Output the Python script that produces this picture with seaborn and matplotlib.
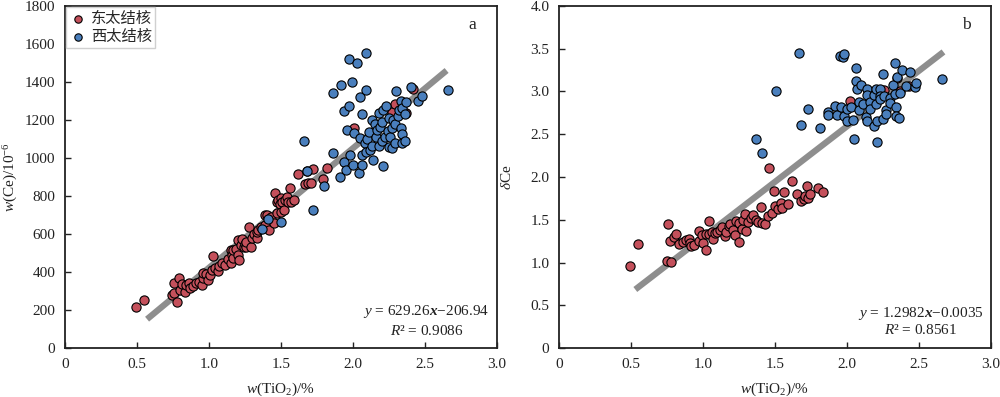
import matplotlib
matplotlib.use("Agg")
import matplotlib.pyplot as plt
import seaborn as sns
import numpy as np

# ---------------- data ----------------
xticks = [0, 0.5, 1.0, 1.5, 2.0, 2.5, 3.0]
xtick_labels = ["0", "0.5", "1.0", "1.5", "2.0", "2.5", "3.0"]
a_yticks = [0, 200, 400, 600, 800, 1000, 1200, 1400, 1600, 1800]
a_ytick_labels = ["0", "200", "400", "600", "800", "1000", "1200", "1400", "1600", "1800"]
b_yticks = [0, 0.5, 1.0, 1.5, 2.0, 2.5, 3.0, 3.5, 4.0]
b_ytick_labels = ["0", "0.5", "1.0", "1.5", "2.0", "2.5", "3.0", "3.5", "4.0"]
series_names = ["东太结核", "西太结核"]

# panel a : w(Ce) vs w(TiO2)
a_east_x = [0.49, 0.55, 0.74, 0.76, 0.76, 0.78, 0.79, 0.80, 0.81, 0.83, 0.84, 0.86, 0.87, 0.89,
            0.91, 0.93, 0.95, 0.96, 0.96, 0.98, 0.99, 1.01, 1.02, 1.03, 1.04, 1.06, 1.07, 1.09,
            1.11, 1.13, 1.15, 1.15, 1.16, 1.17, 1.17, 1.19, 1.20, 1.20, 1.21, 1.22, 1.23, 1.24,
            1.25, 1.26, 1.26, 1.28, 1.29, 1.30, 1.31, 1.33, 1.33, 1.34, 1.36, 1.39, 1.39, 1.40,
            1.42, 1.43, 1.45, 1.46, 1.47, 1.47, 1.48, 1.49, 1.50, 1.50, 1.51, 1.52, 1.53, 1.54,
            1.55, 1.56, 1.57, 1.59, 1.62, 1.67, 1.68, 1.69, 1.71, 1.72, 1.79, 1.82, 2.01, 2.27,
            2.29, 2.37, 2.42]
a_east_y = [216, 254, 279, 290, 344, 244, 367, 305, 335, 296, 330, 340, 314, 325,
            340, 345, 332, 367, 393, 390, 358, 384, 410, 484, 419, 405, 430, 450,
            437, 470, 446, 516, 489, 472, 516, 520, 489, 568, 463, 540, 575, 533,
            550, 533, 560, 638, 533, 577, 600, 577, 612, 620, 638, 646, 700, 700,
            621, 690, 656, 818, 708, 770, 780, 760, 717, 790, 770, 726, 780, 797,
            768, 840, 770, 780, 916, 863, 933, 867, 867, 940, 888, 946, 1156, 1240,
            1284, 1236, 1363]
a_west_x = [1.37, 1.41, 1.50, 1.72, 1.66, 1.68, 1.80, 1.86, 1.86, 1.91, 1.92, 1.94, 1.94, 1.95,
            1.96, 1.97, 1.97, 1.98, 1.99, 2.00, 2.01, 2.03, 2.04, 2.05, 2.05, 2.06, 2.06, 2.06,
            2.08, 2.09, 2.09, 2.09, 2.10, 2.11, 2.12, 2.13, 2.13, 2.14, 2.15, 2.16, 2.17, 2.18,
            2.18, 2.19, 2.20, 2.20, 2.21, 2.21, 2.22, 2.23, 2.24, 2.25, 2.25, 2.26, 2.27, 2.27,
            2.28, 2.29, 2.29, 2.30, 2.31, 2.32, 2.33, 2.33, 2.34, 2.34, 2.34, 2.36, 2.36, 2.37,
            2.40, 2.45, 2.48, 2.66]
a_west_y = [625, 677, 661, 726, 1091, 933, 853, 1024, 1340, 902, 1384, 981, 1247, 937,
            1147, 1274, 1519, 1016, 1402, 963, 1130, 1502, 919, 1103, 1319, 1016, 963, 1230,
            1080, 1030, 1358, 1551, 1100, 1138, 1042, 1065, 1200, 989, 1180, 1113, 1145, 1065,
            1235, 1161, 1190, 1090, 959, 1250, 1112, 1274, 1140, 1056, 1209, 1112, 1052, 1160,
            1200, 1077, 1179, 1353, 1220, 1250, 1156, 1300, 1265, 1126, 1080, 1091, 1230, 1293,
            1375, 1300, 1328, 1358]

# panel b : deltaCe vs w(TiO2)
b_east_x = [0.49, 0.55, 0.75, 0.78, 0.76, 0.77, 0.80, 0.81, 0.83, 0.86, 0.88, 0.90, 0.91, 0.92,
            0.94, 0.97, 0.97, 0.99, 1.00, 1.02, 1.02, 1.04, 1.04, 1.06, 1.07, 1.08, 1.10, 1.12,
            1.13, 1.15, 1.16, 1.18, 1.19, 1.21, 1.22, 1.23, 1.25, 1.25, 1.27, 1.28, 1.29, 1.30,
            1.31, 1.33, 1.35, 1.37, 1.38, 1.40, 1.41, 1.43, 1.45, 1.46, 1.48, 1.49, 1.50, 1.52,
            1.54, 1.55, 1.56, 1.59, 1.62, 1.65, 1.68, 1.70, 1.71, 1.72, 1.73, 1.74, 1.80, 1.83,
            2.02, 2.26, 2.35, 2.37, 2.43]
b_east_y = [0.96, 1.22, 1.02, 1.01, 1.45, 1.25, 1.30, 1.33, 1.22, 1.24, 1.26, 1.27, 1.23, 1.19,
            1.21, 1.37, 1.25, 1.32, 1.23, 1.15, 1.33, 1.48, 1.33, 1.36, 1.28, 1.34, 1.36, 1.38,
            1.42, 1.31, 1.36, 1.43, 1.45, 1.38, 1.32, 1.48, 1.24, 1.46, 1.39, 1.50, 1.57, 1.37,
            1.47, 1.52, 1.55, 1.50, 1.47, 1.65, 1.46, 1.45, 1.54, 2.10, 1.58, 1.84, 1.66, 1.62,
            1.70, 1.64, 1.82, 1.69, 1.95, 1.80, 1.72, 1.74, 1.78, 1.89, 1.76, 1.80, 1.87, 1.83,
            2.89, 3.02, 3.16, 3.01, 3.07]
b_west_x = [1.37, 1.41, 1.51, 1.67, 1.68, 1.73, 1.81, 1.87, 1.87, 1.92, 1.93, 1.95, 1.96, 1.97,
            1.98, 1.98, 2.00, 2.00, 2.03, 2.04, 2.05, 2.06, 2.06, 2.07, 2.08, 2.08, 2.10, 2.11,
            2.13, 2.14, 2.14, 2.14, 2.16, 2.16, 2.19, 2.19, 2.20, 2.20, 2.21, 2.21, 2.23, 2.23,
            2.23, 2.25, 2.25, 2.26, 2.27, 2.27, 2.30, 2.30, 2.32, 2.33, 2.33, 2.34, 2.34, 2.35,
            2.36, 2.37, 2.38, 2.41, 2.44, 2.47, 2.48, 2.66]
b_west_y = [2.45, 2.28, 3.01, 3.45, 2.61, 2.80, 2.57, 2.76, 2.72, 2.83, 2.72, 3.41, 2.82, 3.40,
            3.44, 2.71, 2.80, 2.66, 2.82, 2.67, 2.44, 3.28, 3.12, 3.03, 2.88, 2.78, 3.08, 2.85,
            2.70, 3.03, 2.96, 2.66, 2.88, 2.80, 2.96, 2.60, 3.03, 2.85, 2.66, 2.41, 3.03, 2.95,
            2.91, 3.21, 2.68, 2.95, 2.78, 2.74, 2.92, 2.86, 3.08, 3.33, 2.97, 2.82, 2.71, 3.17,
            2.69, 2.98, 3.25, 3.06, 3.23, 3.05, 3.10, 3.15]

# regression lines (slope, intercept, x-range) and annotation text
a_fit = (629.26, -206.94)
a_fit_range = [0.57, 2.65]
b_fit = (1.2982, -0.0035)
b_fit_range = [0.53, 2.67]
a_eq = r"$y$ = 629.26$\mathbf{x}$−206.94"
a_r2 = r"$R$² = 0.9086"
b_eq = r"$y$ = 1.2982$\mathbf{x}$−0.0035"
b_r2 = r"$R$² = 0.8561"

# ---------------- style ----------------
sns.set_theme(style="white")
plt.rcParams["font.family"] = ["Liberation Serif", "Noto Sans CJK SC"]
plt.rcParams["mathtext.fontset"] = "custom"
plt.rcParams["mathtext.rm"] = "Liberation Serif"
plt.rcParams["mathtext.it"] = "Liberation Serif:italic"
plt.rcParams["mathtext.bf"] = "Liberation Serif:italic:bold"
plt.rcParams["axes.unicode_minus"] = True

RED = "#C4505B"
BLUE = "#4A7FBD"
LINE = "#8E8E8E"
INK = "#222222"
MS = 44
FS = 11

fig = plt.figure(figsize=(10, 3.97), dpi=100)
axa = fig.add_axes([0.065, 0.1234, 0.432, 0.8615])
axb = fig.add_axes([0.559, 0.1234, 0.432, 0.8615])


def draw(ax, ex, ey, wx, wy, fit, frange, yticks, ylabels, ylim, eq, r2, eqy, r2y, letter, lety, ylabel, legend):
    fx = np.array(frange)
    sns.lineplot(x=fx, y=fit[0] * fx + fit[1], ax=ax, color=LINE, lw=4.5, zorder=1,
                 solid_capstyle="butt")
    sns.scatterplot(x=ex, y=ey, ax=ax, color=RED, s=MS, edgecolor="black", linewidth=0.8,
                    label=series_names[0] if legend else None, zorder=3, legend=legend)
    sns.scatterplot(x=wx, y=wy, ax=ax, color=BLUE, s=MS, edgecolor="black", linewidth=0.8,
                    label=series_names[1] if legend else None, zorder=4, legend=legend)
    ax.set_xlim(0, 3)
    ax.set_ylim(*ylim)
    ax.set_xticks(xticks)
    ax.set_xticklabels(xtick_labels)
    ax.set_yticks(yticks)
    ax.set_yticklabels(ylabels)
    ax.tick_params(direction="in", length=4, width=1, colors=INK, labelsize=FS,
                   left=True, bottom=True, pad=7)
    for sp in ax.spines.values():
        sp.set_color(INK)
        sp.set_linewidth(1.3)
    ax.set_xlabel(r"$w$(TiO$_2$)/%", fontsize=FS, color=INK)
    ax.xaxis.set_label_coords(0.5, -0.095)
    ax.set_ylabel(ylabel, fontsize=FS, color=INK)
    ax.yaxis.set_label_coords(-0.105, 0.5)
    ax.text(2.51, eqy, eq, ha="center", va="center", fontsize=11, color=INK)
    ax.text(2.51, r2y, r2, ha="center", va="center", fontsize=11, color=INK)
    ax.text(2.83, lety, letter, ha="center", va="center", fontsize=12.5, color=INK)
    if legend:
        ax.legend(loc="upper left", frameon=True, fancybox=False, edgecolor="#d0d0d0",
                  framealpha=1, borderpad=0.2, handletextpad=0.25, borderaxespad=0.05,
                  labelspacing=0.1, markerscale=0.8, handlelength=1.2,
                  prop={"family": ["Noto Sans CJK SC"], "size": 11})


draw(axa, a_east_x, a_east_y, a_west_x, a_west_y, a_fit, a_fit_range,
     a_yticks, a_ytick_labels, (0, 1800), a_eq, a_r2, 190, 92, "a", 1700,
     r"$w$(Ce)/10$^{−6}$", True)
draw(axb, b_east_x, b_east_y, b_west_x, b_west_y, b_fit, b_fit_range,
     b_yticks, b_ytick_labels, (0, 4.0), b_eq, b_r2, 0.40, 0.205, "b", 3.78,
     r"$\delta$Ce", False)

fig.savefig("out.png", dpi=100)
